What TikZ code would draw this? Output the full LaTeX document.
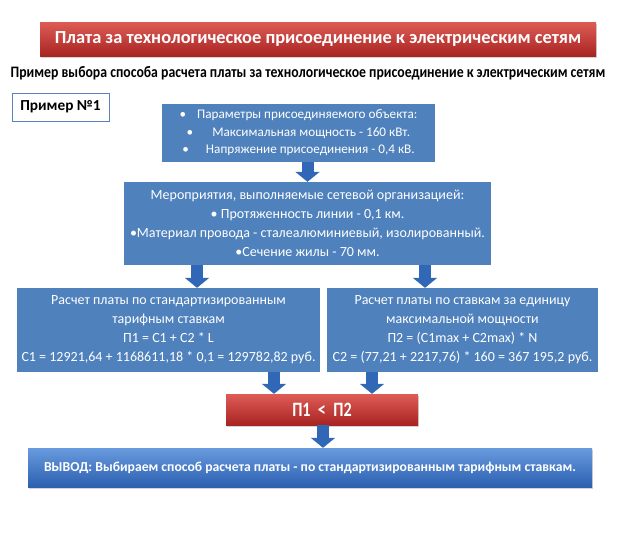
\documentclass[tikz,border=0pt]{standalone}
\usepackage{fontspec}
\setmainfont{Carlito}
\usetikzlibrary{arrows.meta,shadows}

\definecolor{boxblue}{RGB}{79,129,189}
\definecolor{arrowblue}{RGB}{48,103,182}
\definecolor{redtop}{RGB}{222,92,86}
\definecolor{redbottom}{RGB}{168,36,34}
\definecolor{resulttop}{RGB}{104,154,222}
\definecolor{resultbottom}{RGB}{44,96,176}
\definecolor{exframe}{RGB}{90,130,190}

\tikzstyle{every node}=[align=center, inner sep=2pt, text=white, font={\fontsize{14}{19}\selectfont}]
\tikzstyle{bluebox}=[fill=boxblue]
\tikzstyle{titlebox}=[top color=redtop, bottom color=redbottom, drop shadow={opacity=0.35, shadow xshift=1pt, shadow yshift=-2pt}, font={\fontsize{18.4}{20}\selectfont\bfseries}]
\tikzstyle{redbox}=[titlebox, font={\fontsize{17}{20}\selectfont\bfseries}]
\tikzstyle{resultbox}=[top color=resulttop, bottom color=resultbottom, drop shadow={opacity=0.35, shadow xshift=1pt, shadow yshift=-2pt}, font={\fontsize{13.7}{16}\selectfont\bfseries}]
\tikzstyle{exbox}=[draw=exframe, thick, fill=white, text=black, font={\fontsize{15.3}{16}\selectfont\bfseries}]
\tikzstyle{subtitle}=[text=black, font={\fontsize{16}{18}\selectfont\bfseries}]
\tikzstyle{flow}=[draw=arrowblue, line width=12pt, -{Triangle[width=24pt,length=10pt]}]

\begin{document}
\begin{tikzpicture}[x=1pt, y=-1pt]
    \useasboundingbox (0,0) rectangle (634,533);
    \node [titlebox, minimum width=556pt, minimum height=34pt] (title) at (318,39)
        {Плата за технологическое присоединение к электрическим сетям};
    \node [subtitle] (sub) at (308,73)
        {\scalebox{0.86}[1]{Пример выбора способа расчета платы за технологическое присоединение к электрическим сетям}};
    \node [exbox, minimum width=97pt, minimum height=28pt] (ex) at (60.5,107) {Пример №1};

    \node [bluebox, minimum width=273pt, minimum height=58pt, font={\fontsize{13.2}{17.5}\selectfont}] (params) at (298.5,133)
        {\textbullet\hspace{11pt}Параметры присоединяемого объекта:\\
         \textbullet\hspace{19pt}Максимальная мощность - 160 кВт.\\
         \textbullet\hspace{17pt}Напряжение присоединения - 0,4 кВ.};
    \node [bluebox, minimum width=367pt, minimum height=83pt] (works) at (307.5,223.5)
        {Мероприятия, выполняемые сетевой организацией:\\
         \textbullet{} Протяженность линии - 0,1 км.\\
         \textbullet Материал провода - сталеалюминиевый, изолированный.\\
         \textbullet Сечение жилы - 70 мм.};
    \node [bluebox, minimum width=303pt, minimum height=84pt, inner sep=1pt] (tariff) at (168.5,330)
        {Расчет платы по стандартизированным\\
         тарифным ставкам\\
         П1 = С1 + С2 * L\\
         С1 = 12921,64 + 1168611,18 * 0,1 = 129782,82 руб.};
    \node [bluebox, minimum width=271pt, minimum height=84pt, inner sep=1pt] (power) at (462.5,330)
        {Расчет платы по ставкам за единицу\\
         максимальной мощности\\
         П2 = (С1max + С2max) * N\\
         С2 = (77,21 + 2217,76) * 160 = 367 195,2 руб.};
    \node [redbox, minimum width=192pt, minimum height=31pt] (compare) at (322,409.5)
        {\scalebox{0.95}[1.2]{П1\ \ <\ \ П2}};
    \node [resultbox, minimum width=564pt, minimum height=39pt] (result) at (310,467.5)
        {ВЫВОД: Выбираем способ расчета платы - по стандартизированным тарифным ставкам.};

    \draw [flow] (params.south -| works.north) -- (works.north);
    \draw [flow] ([xshift=-110.5pt]works.south) -- ([xshift=28.5pt]tariff.north);
    \draw [flow] ([xshift=117.5pt]works.south) -- ([xshift=-37.5pt]power.north);
    \draw [flow] ([xshift=105.5pt]tariff.south) -- ([xshift=-48pt]compare.north);
    \draw [flow] ([xshift=-90.5pt]power.south) -- ([xshift=50pt]compare.north);
    \draw [flow] ([xshift=1pt]compare.south) -- ([xshift=13pt]result.north);
\end{tikzpicture}
\end{document}
